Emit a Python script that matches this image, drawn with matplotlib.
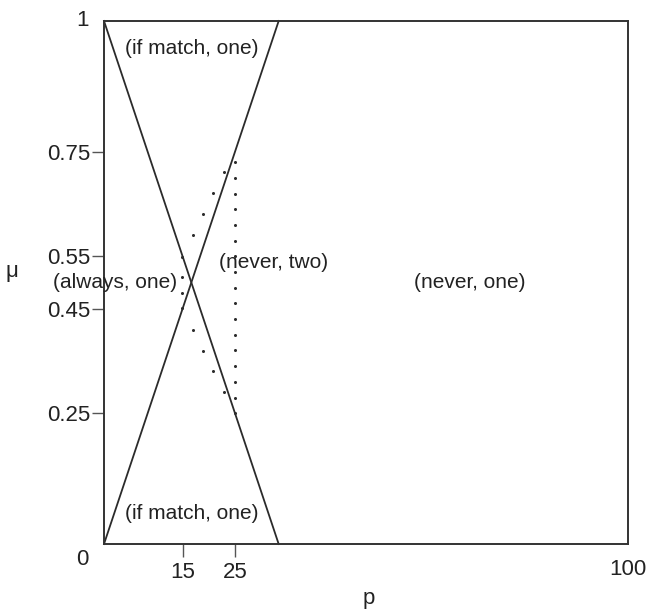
import matplotlib.pyplot as plt

plt.rcParams['font.family'] = ['Liberation Sans', 'DejaVu Sans']

# region boundaries (solid lines)
line_down_p = [0, 100 / 3]
line_down_mu = [1, 0]
line_up_p = [0, 100 / 3]
line_up_mu = [0, 1]

# dotted boundary of the (never, two) region
curve_p = [22.9, 20.8, 18.9, 17.0, 14.9, 14.9, 14.9, 14.9, 17.0, 18.9, 20.8, 22.9]
curve_mu = [0.711, 0.671, 0.631, 0.591, 0.549, 0.511, 0.480, 0.451, 0.409, 0.369, 0.331, 0.291]
column_mu = [0.73, 0.70, 0.67, 0.64, 0.61, 0.58, 0.55, 0.52, 0.49,
             0.46, 0.43, 0.40, 0.37, 0.34, 0.31, 0.28, 0.25]
column_p = [25] * len(column_mu)

xticks = [15, 25]
yticks = [0.25, 0.45, 0.55, 0.75]
ytick_labels = ['0.25', '0.45', '0.55', '0.75']

regions = [
    ('(if match, one)', 16.8, 0.948),
    ('(if match, one)', 16.8, 0.059),
    ('(always, one)', 2.1, 0.50),
    ('(never, two)', 32.3, 0.539),
    ('(never, one)', 69.8, 0.50),
]

fig = plt.figure(figsize=(6.51, 6.11), dpi=100)
ax = fig.add_axes([104 / 651, 1 - 544 / 611, 524 / 651, 523 / 611])
ax.set_xlim(0, 100)
ax.set_ylim(0, 1)

dark = '#2b2b2b'
ax.plot(line_down_p, line_down_mu, color=dark, lw=1.3, clip_on=False)
ax.plot(line_up_p, line_up_mu, color=dark, lw=1.3, clip_on=False)
ax.plot(curve_p, curve_mu, 'o', color=dark, ms=2.2, mew=0)
ax.plot(column_p, column_mu, 'o', color=dark, ms=2.2, mew=0)

for txt, x, y in regions:
    ax.text(x, y, txt, ha='center', va='center', fontsize=15,
            color='#222222', clip_on=False)

for s in ax.spines.values():
    s.set_color('#333333')
    s.set_linewidth(1.4)

ax.set_xticks(xticks)
ax.set_xticklabels([str(t) for t in xticks])
ax.set_yticks(yticks)
ax.set_yticklabels(ytick_labels)
ax.tick_params(axis='both', direction='out', length=9, width=1.0,
               color='#555555', labelsize=16, labelcolor='#222222')
ax.tick_params(axis='x', pad=4)
ax.tick_params(axis='y', pad=1)

# corner labels without tick marks
ax.text(-3.0, -0.029, '0', ha='right', va='center', fontsize=16, color='#222222')
ax.text(-3.0, 1.0, '1', ha='right', va='center', fontsize=16, color='#222222')
ax.text(100, -0.048, '100', ha='center', va='center', fontsize=16, color='#222222',
        clip_on=False)

ax.set_xlabel('p', fontsize=16, color='#222222')
ax.xaxis.set_label_coords(0.505, -0.085)
ax.set_ylabel('μ', fontsize=16, color='#222222', rotation=0, labelpad=0)
ax.yaxis.set_label_coords(-0.175, 0.50)

fig.savefig('out.png', dpi=100)
